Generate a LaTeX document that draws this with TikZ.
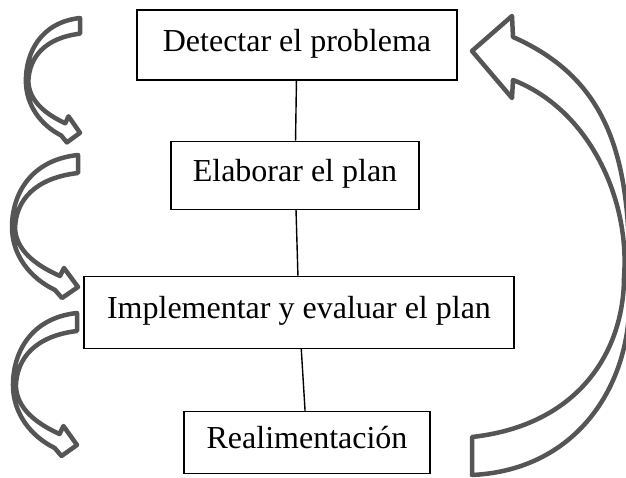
\documentclass[tikz,border=0pt]{standalone}
\usepackage{fontspec}
\setmainfont{Liberation Serif}
\usetikzlibrary{positioning}
\definecolor{arrowgray}{RGB}{85,85,85}

\begin{document}
\begin{tikzpicture}[x=1pt, y=-1pt,
	box/.style={draw, line width=1.1pt, font=\fontsize{32}{36}\selectfont,
		text height=21pt, text depth=9pt, inner sep=0pt},
	link/.style={line width=1.4pt},
	outline/.style={draw=arrowgray, fill=white, line width=4.5pt, line join=round},
	curlarrow/.pic={
		\draw[outline] (0,0) -- (0,18) .. controls (-43,23) and (-62,45) .. (-63,73)
			.. controls (-62,95) and (-43,110) .. (-18,121) -- (-14,113) -- (0,132)
			-- (-16,143) -- (-23,135) .. controls (-48,123) and (-66,100) .. (-66,72)
			.. controls (-66,40) and (-48,5) .. cycle;
	}]
\useasboundingbox (0,0) rectangle (626,477);

\node(detectar)	[box, minimum width=320pt, minimum height=70pt] at (297,45)	{Detectar el problema};
\node(elaborar)	[box, minimum width=248pt, minimum height=68pt, below=60pt of detectar, xshift=-2pt]	{Elaborar el plan};
\node(implementar)	[box, minimum width=430pt, minimum height=72pt, below=66pt of elaborar, xshift=4pt]	{Implementar y evaluar el plan};
\node(realim)	[box, minimum width=246pt, minimum height=62pt, below=62pt of implementar, xshift=8pt]	{Realimentación};

\draw [link] (detectar) -- (elaborar);
\draw [link] (elaborar) -- (implementar);
\draw [link] (implementar) -- (realim);

\foreach \px/\py/\sx/\sy in {80/18/0.82/0.87, 78/155/1/1, 77/313/0.97/1} {
	\pic [xscale=\sx, yscale=\sy] at (\px,\py) {curlarrow}; }

\draw [outline] (513,37) -- (512,16) -- (472,51) -- (512,98) -- (513,80)
	.. controls (590,110) and (630,200) .. (624,277)
	.. controls (624,350) and (580,425) .. (472,437) -- (472,475)
	.. controls (580,470) and (634,380) .. (629,290)
	.. controls (632,160) and (610,80) .. cycle;

\end{tikzpicture}
\end{document}
